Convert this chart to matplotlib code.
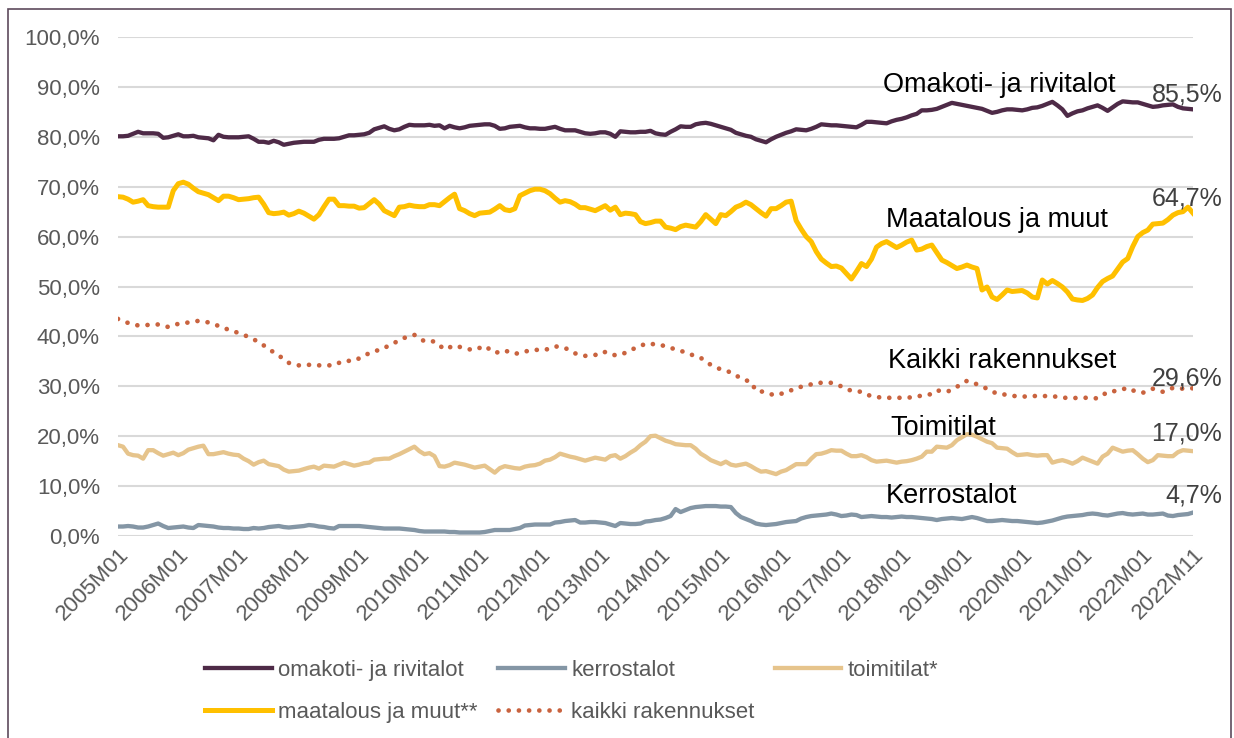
import numpy as np
import matplotlib
matplotlib.use("Agg")
import matplotlib.pyplot as plt
from matplotlib.patches import Rectangle

plt.rcParams['font.family'] = ['Liberation Sans', 'DejaVu Sans']

# monthly categories 2005M01 .. 2022M11
years = list(range(2005, 2023))
months = [f"{y}M{m:02d}" for y in years for m in range(1, 13)][:215]

omakoti = [
    80.1, 80.1, 80.2, 80.6, 81.0, 80.7, 80.7, 80.7, 80.6, 79.8, 79.9, 80.2,
    80.5, 80.1, 80.1, 80.2, 79.9, 79.8, 79.7, 79.3, 80.4, 80.0, 79.9, 79.9,
    79.9, 80.0, 80.1, 79.6, 79.0, 79.0, 78.8, 79.2, 78.9, 78.4, 78.6, 78.8,
    78.9, 79.0, 79.0, 79.0, 79.4, 79.6, 79.6, 79.6, 79.7, 80.0, 80.3, 80.3,
    80.4, 80.5, 80.8, 81.5, 81.8, 82.1, 81.6, 81.3, 81.5, 82.0, 82.4, 82.3,
    82.3, 82.3, 82.4, 82.2, 82.3, 81.7, 82.2, 81.9, 81.7, 81.9, 82.2, 82.3,
    82.4, 82.5, 82.5, 82.2, 81.6, 81.7, 82.0, 82.1, 82.2, 81.9, 81.7, 81.7,
    81.6, 81.6, 81.8, 82.0, 81.6, 81.3, 81.3, 81.3, 81.0, 80.7, 80.6, 80.7,
    80.9, 80.9, 80.6, 80.0, 81.1, 81.0, 80.9, 80.9, 81.0, 81.0, 81.2, 80.7,
    80.5, 80.4, 81.0, 81.5, 82.1, 82.0, 82.0, 82.5, 82.7, 82.8, 82.6, 82.3,
    82.0, 81.7, 81.4, 80.8, 80.5, 80.2, 80.0, 79.5, 79.2, 78.9, 79.5, 80.0,
    80.4, 80.8, 81.1, 81.5, 81.4, 81.3, 81.6, 82.0, 82.5, 82.4, 82.3, 82.3,
    82.2, 82.1, 82.0, 81.9, 82.4, 83.0, 83.0, 82.9, 82.8, 82.7, 83.1, 83.4,
    83.6, 83.9, 84.3, 84.6, 85.3, 85.3, 85.4, 85.6, 86.0, 86.4, 86.8, 86.6,
    86.4, 86.2, 86.0, 85.8, 85.6, 85.2, 84.8, 85.0, 85.3, 85.5, 85.5, 85.4,
    85.3, 85.5, 85.8, 85.9, 86.2, 86.6, 87.0, 86.3, 85.5, 84.2, 84.7, 85.1,
    85.3, 85.7, 86.0, 86.3, 85.8, 85.2, 85.9, 86.6, 87.1, 87.0, 86.9, 86.9,
    86.6, 86.3, 86.0, 86.1, 86.3, 86.4, 86.5, 86.0, 85.7, 85.6, 85.5,
]

kerrostalot = [
    1.9, 1.9, 2.0, 1.9, 1.7, 1.7, 1.9, 2.2, 2.5, 2.0, 1.6, 1.7,
    1.8, 1.9, 1.7, 1.6, 2.2, 2.1, 2.0, 1.9, 1.7, 1.6, 1.6, 1.5,
    1.5, 1.4, 1.4, 1.6, 1.5, 1.6, 1.8, 1.9, 2.0, 1.8, 1.7, 1.8,
    1.9, 2.0, 2.2, 2.1, 1.9, 1.8, 1.6, 1.5, 2.0, 2.0, 2.0, 2.0,
    2.0, 1.9, 1.8, 1.7, 1.6, 1.5, 1.5, 1.5, 1.5, 1.4, 1.3, 1.2,
    1.0, 0.9, 0.9, 0.9, 0.9, 0.9, 0.8, 0.8, 0.7, 0.7, 0.7, 0.7,
    0.7, 0.8, 1.0, 1.2, 1.2, 1.2, 1.2, 1.4, 1.6, 2.1, 2.2, 2.3,
    2.3, 2.3, 2.3, 2.7, 2.8, 3.0, 3.1, 3.2, 2.7, 2.7, 2.8, 2.8,
    2.7, 2.6, 2.3, 2.0, 2.6, 2.5, 2.4, 2.4, 2.5, 2.9, 3.0, 3.2,
    3.3, 3.6, 4.0, 5.4, 4.8, 5.2, 5.6, 5.8, 5.9, 6.0, 6.0, 6.0,
    5.9, 5.9, 5.8, 4.6, 3.8, 3.4, 3.0, 2.5, 2.3, 2.2, 2.3, 2.4,
    2.6, 2.8, 2.9, 3.0, 3.5, 3.8, 4.0, 4.1, 4.2, 4.3, 4.5, 4.3,
    4.0, 4.1, 4.3, 4.2, 3.8, 3.9, 4.0, 3.9, 3.8, 3.8, 3.7, 3.8,
    3.9, 3.8, 3.8, 3.7, 3.6, 3.5, 3.4, 3.2, 3.4, 3.5, 3.6, 3.5,
    3.4, 3.6, 3.8, 3.6, 3.3, 3.0, 3.0, 3.1, 3.2, 3.1, 3.0, 3.0,
    2.9, 2.8, 2.7, 2.6, 2.7, 2.9, 3.1, 3.4, 3.7, 3.9, 4.0, 4.1,
    4.2, 4.4, 4.5, 4.4, 4.2, 4.1, 4.3, 4.5, 4.6, 4.4, 4.3, 4.4,
    4.5, 4.3, 4.3, 4.4, 4.5, 4.1, 4.0, 4.2, 4.3, 4.4, 4.7,
]

toimitilat = [
    18.2, 17.9, 16.5, 16.2, 16.1, 15.5, 17.2, 17.2, 16.6, 16.1, 16.4, 16.7,
    16.2, 16.6, 17.3, 17.6, 17.9, 18.1, 16.4, 16.4, 16.6, 16.8, 16.5, 16.3,
    16.2, 15.5, 15.0, 14.3, 14.8, 15.1, 14.4, 14.2, 14.0, 13.3, 12.9, 13.0,
    13.1, 13.4, 13.7, 13.9, 13.5, 14.1, 14.0, 13.9, 14.3, 14.7, 14.4, 14.1,
    14.3, 14.6, 14.7, 15.3, 15.4, 15.5, 15.5, 16.0, 16.4, 16.9, 17.4, 17.9,
    17.0, 16.4, 16.6, 16.0, 14.0, 13.9, 14.2, 14.7, 14.5, 14.3, 14.0, 13.7,
    13.9, 14.1, 13.4, 12.7, 13.6, 14.0, 13.8, 13.6, 13.5, 13.9, 14.1, 14.2,
    14.5, 15.1, 15.3, 15.8, 16.5, 16.2, 15.9, 15.7, 15.4, 15.1, 15.4, 15.7,
    15.5, 15.3, 16.0, 16.2, 15.5, 16.0, 16.7, 17.3, 18.2, 18.9, 20.0, 20.1,
    19.6, 19.1, 18.8, 18.4, 18.3, 18.2, 18.2, 17.5, 16.5, 15.9, 15.2, 14.8,
    14.4, 14.9, 14.3, 14.1, 14.3, 14.5, 14.0, 13.4, 12.9, 13.0, 12.7, 12.4,
    12.9, 13.2, 13.8, 14.4, 14.4, 14.4, 15.5, 16.4, 16.5, 16.8, 17.2, 17.1,
    17.1, 16.5, 16.0, 16.0, 16.2, 15.8, 15.2, 14.9, 15.0, 15.1, 14.9, 14.7,
    14.9, 15.0, 15.2, 15.5, 15.9, 16.9, 16.9, 17.9, 17.8, 17.7, 18.2, 19.2,
    19.8, 20.4, 20.3, 19.9, 19.4, 18.9, 18.6, 17.7, 17.6, 17.5, 16.8, 16.2,
    16.3, 16.4, 16.2, 16.1, 16.2, 16.2, 14.7, 15.0, 15.2, 14.9, 14.5, 15.0,
    15.7, 15.3, 14.9, 14.5, 15.9, 16.5, 17.7, 17.3, 16.9, 17.1, 17.2, 16.4,
    15.5, 14.8, 15.2, 16.2, 16.1, 16.0, 16.0, 16.8, 17.2, 17.1, 17.0,
]

maatalous = [
    68.0, 67.9, 67.5, 66.9, 67.1, 67.4, 66.2, 66.0, 65.9, 65.9, 65.9, 69.2,
    70.6, 70.9, 70.5, 69.7, 69.0, 68.7, 68.4, 67.8, 67.2, 68.1, 68.1, 67.8,
    67.4, 67.5, 67.6, 67.8, 67.9, 66.5, 64.8, 64.6, 64.7, 64.9, 64.3, 64.6,
    65.1, 64.7, 64.1, 63.5, 64.4, 66.0, 67.5, 67.5, 66.2, 66.2, 66.1, 66.1,
    65.7, 65.8, 66.6, 67.4, 66.5, 65.2, 64.7, 64.2, 65.9, 66.0, 66.3, 66.1,
    66.0, 66.0, 66.4, 66.4, 66.2, 67.0, 67.8, 68.5, 65.6, 65.2, 64.6, 64.2,
    64.7, 64.8, 64.9, 65.5, 66.2, 65.4, 65.2, 65.6, 68.2, 68.7, 69.2, 69.5,
    69.5, 69.2, 68.6, 67.7, 66.9, 67.2, 67.0, 66.5, 65.8, 65.8, 65.5, 65.2,
    65.7, 66.2, 65.3, 65.9, 64.4, 64.7, 64.6, 64.4, 63.0, 62.6, 62.8, 63.1,
    63.1, 61.9, 61.7, 61.4, 62.0, 62.3, 62.1, 61.9, 63.0, 64.4, 63.5, 62.6,
    64.4, 64.2, 65.0, 65.9, 66.3, 66.9, 66.4, 65.6, 64.8, 64.1, 65.6, 65.6,
    66.2, 66.9, 67.1, 63.2, 61.5, 60.0, 59.0, 57.0, 55.5, 54.7, 54.0, 54.1,
    53.7, 52.6, 51.5, 53.0, 54.6, 54.0, 55.5, 57.9, 58.6, 59.0, 58.4, 57.8,
    58.3, 58.9, 59.3, 57.3, 57.5, 58.0, 58.3, 56.8, 55.3, 54.8, 54.2, 53.6,
    53.9, 54.3, 53.9, 53.6, 49.3, 49.9, 47.9, 47.4, 48.3, 49.3, 49.0, 49.1,
    49.2, 48.7, 47.9, 47.7, 51.3, 50.5, 51.2, 50.6, 49.9, 48.9, 47.5, 47.3,
    47.2, 47.6, 48.3, 49.8, 51.0, 51.6, 52.1, 53.5, 54.9, 55.6, 58.0, 60.0,
    60.8, 61.3, 62.5, 62.6, 62.7, 63.4, 64.3, 64.8, 65.0, 65.9, 64.7,
]

kaikki = [
    43.5, 43.1, 42.7, 42.4, 42.2, 42.2, 42.3, 42.3, 42.4, 42.1, 41.9, 42.3,
    42.5, 42.6, 42.8, 43.0, 43.1, 43.0, 42.8, 42.5, 42.1, 41.8, 41.3, 41.0,
    40.7, 40.3, 39.9, 39.4, 38.9, 38.2, 37.5, 36.8, 36.2, 35.4, 34.7, 34.4,
    34.2, 34.2, 34.3, 34.3, 34.2, 34.2, 34.2, 34.2, 34.7, 35.1, 35.1, 35.1,
    35.6, 36.2, 36.6, 37.0, 37.3, 37.6, 38.3, 38.7, 39.2, 39.7, 40.0, 40.3,
    39.7, 39.0, 39.0, 39.0, 38.2, 37.4, 37.8, 38.2, 37.9, 37.6, 37.4, 37.3,
    37.7, 38.1, 37.4, 36.7, 36.9, 37.2, 36.8, 36.5, 36.7, 37.0, 37.1, 37.3,
    37.3, 37.3, 37.6, 38.0, 37.9, 37.7, 37.1, 36.6, 36.3, 36.1, 36.2, 36.3,
    36.3, 36.9, 36.6, 36.2, 36.4, 36.7, 37.2, 37.7, 38.1, 38.5, 38.6, 38.3,
    38.3, 38.0, 37.7, 37.4, 37.1, 36.8, 36.4, 36.0, 35.7, 35.0, 34.3, 33.8,
    33.4, 33.1, 32.8, 32.2, 31.6, 31.2, 30.9, 29.1, 29.0, 28.7, 28.4, 28.2,
    28.5, 28.8, 29.2, 29.7, 29.9, 30.1, 30.4, 30.7, 30.7, 30.7, 30.7, 30.3,
    30.0, 29.5, 29.1, 29.0, 28.9, 28.4, 28.0, 27.9, 27.7, 27.7, 27.7, 27.7,
    27.7, 27.7, 27.8, 28.0, 28.1, 28.2, 28.5, 29.2, 29.0, 28.9, 29.3, 29.9,
    30.5, 31.1, 30.8, 30.4, 30.0, 29.5, 29.0, 28.5, 28.4, 28.3, 28.1, 28.0,
    28.0, 27.9, 28.0, 28.1, 28.1, 28.0, 28.0, 27.9, 27.7, 27.7, 27.6, 27.7,
    27.7, 27.7, 27.6, 27.6, 28.2, 28.9, 29.0, 29.1, 29.4, 29.7, 29.2, 28.8,
    28.7, 29.1, 29.5, 29.2, 28.9, 29.2, 29.7, 29.7, 29.5, 29.6, 29.6,
]

legend_names = ["omakoti- ja rivitalot", "kerrostalot", "toimitilat*",
                "maatalous ja muut**", "kaikki rakennukset"]
inline_names = ["Omakoti- ja rivitalot", "Kerrostalot", "Toimitilat",
                "Maatalous ja muut", "Kaikki rakennukset"]
colors = ["#4E2A47", "#8496A5", "#E6C48C", "#FFC000", "#C9633F"]

fig = plt.figure(figsize=(12.34, 7.38), dpi=100)
ax = fig.add_axes([118 / 1234, 1 - 536 / 738, (1193 - 118) / 1234, (536 - 37) / 738])

x = np.arange(len(months))
series = [omakoti, kerrostalot, toimitilat, maatalous, kaikki]
lines = []
for i, (vals, col, name) in enumerate(zip(series, colors, legend_names)):
    if i == 4:
        ln, = ax.plot(x, vals, color=col, lw=3.4, linestyle=(0, (0.01, 2.15)),
                      dash_capstyle='round', label=name)
    elif i == 3:
        ln, = ax.plot(x, vals, color=col, lw=3.6, solid_joinstyle='round', label=name)
    else:
        ln, = ax.plot(x, vals, color=col, lw=3.1, solid_joinstyle='round', label=name)
    lines.append(ln)

ax.set_xlim(0, len(months) - 1)
ax.set_ylim(0, 100)
ax.set_yticks(np.arange(0, 101, 10))
ax.set_yticklabels([f"{v},0%" for v in range(0, 101, 10)], fontsize=16, color="#595959")
ax.yaxis.grid(True, color="#D9D9D9", lw=1.5)
ax.set_axisbelow(True)

tick_idx = [i for i, m in enumerate(months) if m.endswith("M01")] + [len(months) - 1]
ax.set_xticks(tick_idx)
ax.set_xticklabels([months[i] for i in tick_idx], rotation=45, ha='right',
                   rotation_mode='anchor', fontsize=16, color="#595959")
ax.tick_params(axis='both', length=0)
ax.tick_params(axis='x', pad=6)
ax.tick_params(axis='y', pad=13)
for s in ax.spines.values():
    s.set_visible(False)

# inline series names
name_pos = [(152.3, 90.4), (152.8, 8.0), (153.8, 21.6), (152.8, 63.3), (153.3, 35.1)]
for (px, py), txt in zip(name_pos, inline_names):
    ax.text(px, py, txt, fontsize=19.5, color="black", va='center', ha='left')

# last values
last_pos = [88.5, 8.2, 20.6, 67.7, 31.6]
for vals, py in zip(series, last_pos):
    ax.text(219.8, py, f"{vals[-1]:.1f}%".replace(".", ","), fontsize=18,
            color="#404040", va='center', ha='right', clip_on=False)

order = [0, 3, 1, 4, 2]
leg = fig.legend([lines[k] for k in order], [legend_names[k] for k in order],
                 loc='upper left', bbox_to_anchor=(205 / 1234, 1 - 660 / 738),
                 ncol=3, frameon=False, fontsize=16, handlelength=3.0,
                 handletextpad=0.3, columnspacing=0.9, labelspacing=0.95,
                 borderaxespad=0, borderpad=0)
for t in leg.get_texts():
    t.set_color("#595959")

fig.patches.append(Rectangle((8 / 1234, -0.05), (1231 - 8) / 1234, 1 - 9 / 738 + 0.05,
                             transform=fig.transFigure, fill=False,
                             ec="#5E4A5C", lw=1.2))

fig.savefig("out.png", dpi=100)
